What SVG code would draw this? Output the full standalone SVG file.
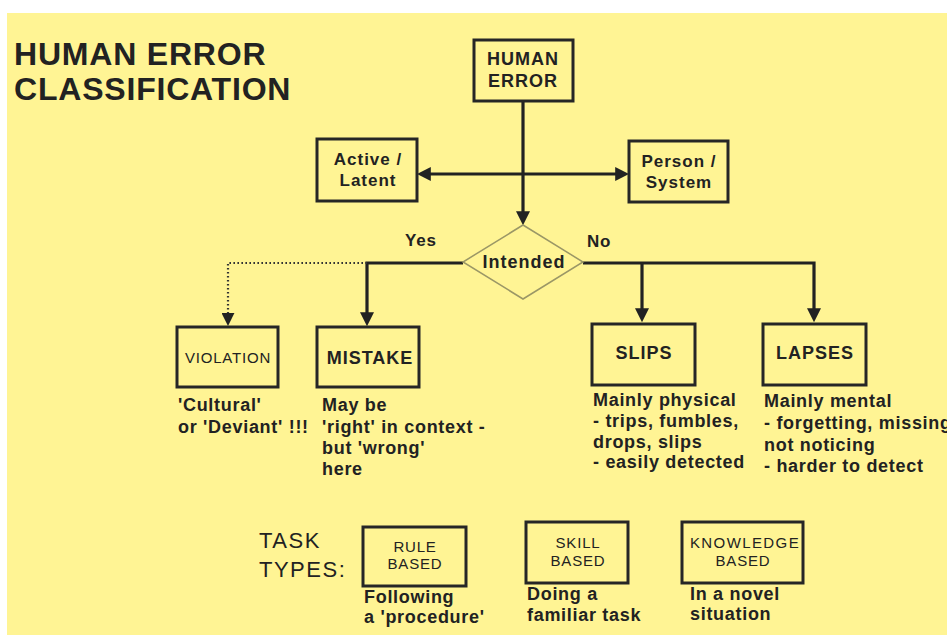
<svg xmlns="http://www.w3.org/2000/svg" width="947" height="635" viewBox="0 0 947 635">
<style>
.box{fill:none;stroke:#262626;stroke-width:3}
.dia{fill:none;stroke:#9b9766;stroke-width:1.5}
.ln{fill:none;stroke:#222;stroke-width:3.2}
.dot{fill:none;stroke:#333;stroke-width:2.2;stroke-dasharray:1.6 2.4}
text{font-family:"Liberation Sans",Arial,sans-serif;fill:#222}
.title{font-size:32px;font-weight:bold;letter-spacing:0.8px}
.nb{font-size:18px;font-weight:bold;letter-spacing:1px;text-anchor:middle}
.ns{font-size:17px;font-weight:bold;letter-spacing:1px;text-anchor:middle}
.nr{font-size:15px;letter-spacing:0.8px;text-anchor:middle}
.lbl{font-size:17px;font-weight:bold;letter-spacing:0.8px}
.body{font-size:18px;font-weight:bold;letter-spacing:0.7px}
.task{font-size:22px;letter-spacing:1.5px}
</style>
<defs>
<marker id="ah" viewBox="0 0 10 10" refX="7" refY="5" markerWidth="14" markerHeight="14" markerUnits="userSpaceOnUse" orient="auto">
<path d="M0,0 L10,5 L0,10 z" fill="#222"/>
</marker>
<marker id="ahd" viewBox="0 0 10 10" refX="7" refY="5" markerWidth="13" markerHeight="13" markerUnits="userSpaceOnUse" orient="auto">
<path d="M0,0 L10,5 L0,10 z" fill="#222"/>
</marker>
</defs>
<rect x="7" y="13" width="940" height="622" fill="#FFF494"/>
<g id="title">
<text class="title" x="14" y="65">HUMAN ERROR</text>
<text class="title" x="14" y="100">CLASSIFICATION</text>
</g>
<g id="connectors">
<path class="ln" d="M523,101 L523,221" marker-end="url(#ah)"/>
<path class="ln" d="M523,174 L421,174" marker-end="url(#ah)"/>
<path class="ln" d="M523,174 L625,174" marker-end="url(#ah)"/>
<path class="ln" d="M463,263 L367,263 L367,322" marker-end="url(#ah)"/>
<path class="dot" d="M367,263 L228,263 L228,322" marker-end="url(#ahd)"/>
<path class="ln" d="M583,263 L814,263 L814,318" marker-end="url(#ah)"/>
<path class="ln" d="M642,263 L642,318" marker-end="url(#ah)"/>
</g>
<g id="human-error">
<rect class="box" x="474" y="40" width="99" height="61"/>
<text class="nb" x="523" y="65">HUMAN</text>
<text class="nb" x="523" y="87">ERROR</text>
</g>
<g id="active-latent">
<rect class="box" x="317" y="139" width="100" height="62"/>
<text class="ns" x="368" y="165">Active /</text>
<text class="ns" x="368" y="186">Latent</text>
</g>
<g id="person-system">
<rect class="box" x="629" y="141" width="99" height="61"/>
<text class="ns" x="679" y="167">Person /</text>
<text class="ns" x="679" y="188">System</text>
</g>
<g id="intended">
<polygon class="dia" points="523,225 583,262 523,299 463,262"/>
<text class="nb" x="524" y="268">Intended</text>
<text class="lbl" x="405" y="246">Yes</text>
<text class="lbl" x="587" y="247">No</text>
</g>
<g id="violation">
<rect class="box" x="177" y="327" width="101" height="60"/>
<text class="nr" x="228" y="363">VIOLATION</text>
<text class="body" x="178" y="411">'Cultural'</text>
<text class="body" x="178" y="433">or 'Deviant' !!!</text>
</g>
<g id="mistake">
<rect class="box" x="317" y="327" width="102" height="60"/>
<text class="nb" x="370" y="364">MISTAKE</text>
<text class="body" x="322" y="411">May be</text>
<text class="body" x="322" y="433">'right' in context -</text>
<text class="body" x="322" y="454">but 'wrong'</text>
<text class="body" x="322" y="475">here</text>
</g>
<g id="slips">
<rect class="box" x="592" y="324" width="103" height="61"/>
<text class="nb" x="644" y="359">SLIPS</text>
<text class="body" x="593" y="406">Mainly physical</text>
<text class="body" x="593" y="427">- trips, fumbles,</text>
<text class="body" x="593" y="448">drops, slips</text>
<text class="body" x="593" y="468">- easily detected</text>
</g>
<g id="lapses">
<rect class="box" x="763" y="324" width="103" height="61"/>
<text class="nb" x="815" y="359">LAPSES</text>
<text class="body" x="764" y="407">Mainly mental</text>
<text class="body" x="764" y="429">- forgetting, missing</text>
<text class="body" x="764" y="451">not noticing</text>
<text class="body" x="764" y="472">- harder to detect</text>
</g>
<g id="task-types">
<text class="task" x="259" y="548">TASK</text>
<text class="task" x="259" y="577">TYPES:</text>
</g>
<g id="rule-based">
<rect class="box" x="363" y="527" width="103" height="59"/>
<text class="nr" x="415" y="552">RULE</text>
<text class="nr" x="415" y="569">BASED</text>
<text class="body" x="364" y="603">Following</text>
<text class="body" x="364" y="623">a 'procedure'</text>
</g>
<g id="skill-based">
<rect class="box" x="526" y="522" width="102" height="61"/>
<text class="nr" x="578" y="548">SKILL</text>
<text class="nr" x="578" y="566">BASED</text>
<text class="body" x="527" y="600">Doing a</text>
<text class="body" x="527" y="621">familiar task</text>
</g>
<g id="knowledge-based">
<rect class="box" x="682" y="522" width="121" height="61"/>
<text class="nr" x="745" y="548" style="letter-spacing:1.4px">KNOWLEDGE</text>
<text class="nr" x="743" y="566">BASED</text>
<text class="body" x="690" y="600">In a novel</text>
<text class="body" x="690" y="620">situation</text>
</g>
</svg>
